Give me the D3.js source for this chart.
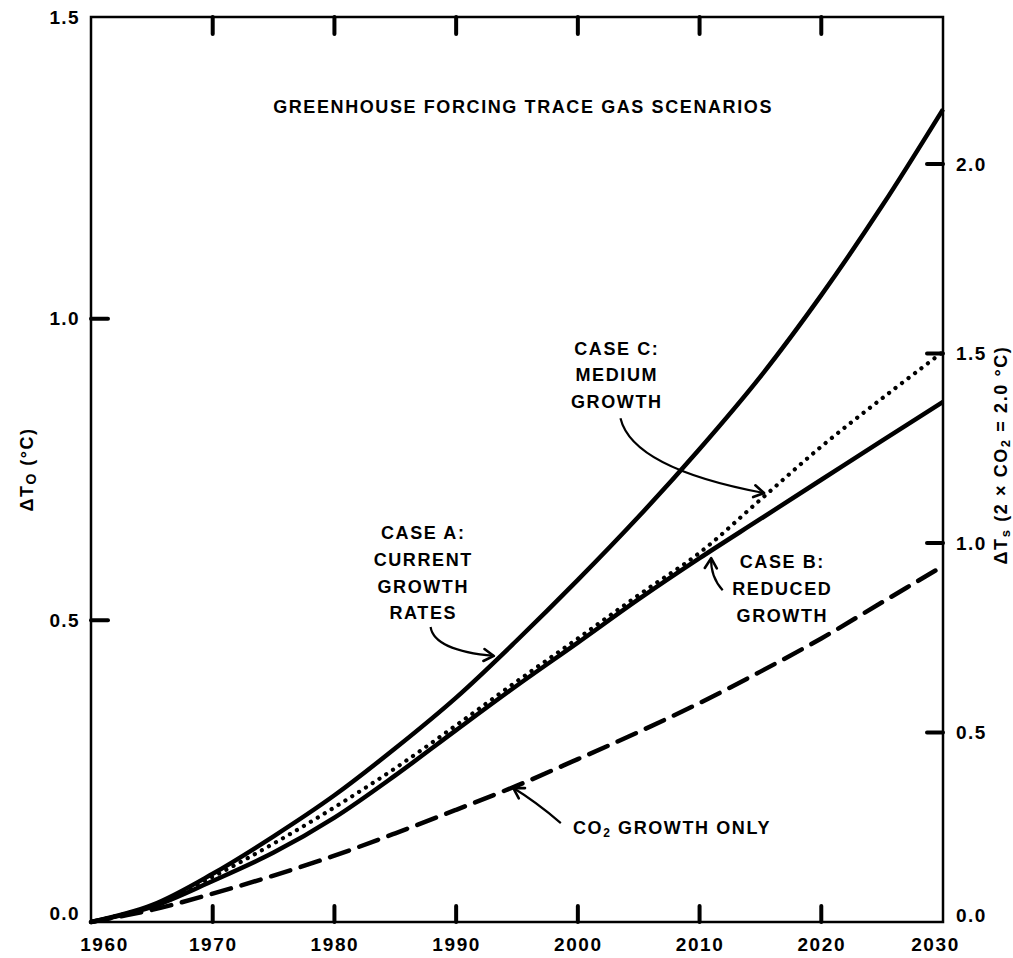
<!DOCTYPE html>
<html>
<head>
<meta charset="utf-8">
<script src="https://cdn.jsdelivr.net/npm/d3@7"></script>
<style>
  html, body { margin: 0; padding: 0; background: #fff; }
  svg { display: block; }
  text { font-family: "Liberation Sans", Arial, Helvetica, sans-serif; fill: #000; }
</style>
</head>
<body>
<svg id="chart" width="1013" height="958"></svg>
<script>
// ---- data ----
const years = [1960, 1965, 1970, 1975, 1980, 1985, 1990, 1995, 2000, 2005, 2010, 2015, 2020, 2025, 2030];
const caseA = [0, 0.028, 0.08, 0.142, 0.21, 0.288, 0.372, 0.467, 0.567, 0.672, 0.784, 0.904, 1.039, 1.187, 1.347];
const caseB = [0, 0.025, 0.068, 0.115, 0.173, 0.243, 0.318, 0.392, 0.463, 0.535, 0.603, 0.668, 0.733, 0.798, 0.862];
const caseC = [0, 0.027, 0.075, 0.13, 0.19, 0.255, 0.326, 0.399, 0.470, 0.542, 0.612, 0.700, 0.788, 0.868, 0.945];
const co2Only = [0, 0.02, 0.047, 0.077, 0.11, 0.147, 0.186, 0.226, 0.27, 0.315, 0.363, 0.415, 0.47, 0.53, 0.59];

const xTicks = [1960, 1970, 1980, 1990, 2000, 2010, 2020, 2030];
const yLeftTicks = [0.0, 0.5, 1.0, 1.5];
const yRightTicks = [0.0, 0.5, 1.0, 1.5, 2.0];

const titleText = "GREENHOUSE FORCING TRACE GAS SCENARIOS";
const leftAxisLabel = ["ΔT", "O", " (°C)"];
const caseALabel = ["CASE A:", "CURRENT", "GROWTH", "RATES"];
const caseCLabel = ["CASE C:", "MEDIUM", "GROWTH"];
const caseBLabel = ["CASE B:", "REDUCED", "GROWTH"];

// annotation anchors in data units [year, value]
const titlePos = [1995.5, 1.351];
const caseAPos = [1987.3, 0.645];
const caseCPos = [2003.2, 0.951];
const caseBPos = [2016.8, 0.597];
const co2LabelPos = [1999.6, 0.157];
const arrows = [
  [[1987.9, 0.489], [1988.2, 0.450], [1993.1, 0.441]],
  [[2003.5, 0.835], [2004.5, 0.752], [2015.3, 0.711]],
  [[2011.9, 0.550], [2010.9, 0.572], [2010.95, 0.603]],
  [[1998.6, 0.164], [1996.5, 0.200], [1994.7, 0.222]]
];

// ---- layout ----
const L = 91, R = 943, T = 17, B = 922;
const svg = d3.select("#chart");

const x = d3.scaleLinear().domain([1960, 2030]).range([L, R]);
const yL = d3.scaleLinear().domain([0, 1.5]).range([B, T]);
const yR = d3.scaleLinear().domain([0, 2.0]).range([B, 164]);

const line = d3.line().x(d => x(d[0])).y(d => yL(d[1])).curve(d3.curveCatmullRom.alpha(0.5));
const zip = arr => years.map((yr, i) => [yr, arr[i]]);

const g = svg.append("g");

// series
g.append("path").datum(zip(co2Only)).attr("d", line)
  .attr("fill", "none").attr("stroke", "#000").attr("stroke-width", 4.5)
  .attr("stroke-dasharray", "20 11").attr("stroke-linecap", "round");
g.append("path").datum(zip(caseB)).attr("d", line)
  .attr("fill", "none").attr("stroke", "#000").attr("stroke-width", 4.5);
g.append("path").datum(zip(caseC)).attr("d", line)
  .attr("fill", "none").attr("stroke", "#000").attr("stroke-width", 4.2)
  .attr("stroke-dasharray", "0.1 8").attr("stroke-linecap", "round");
g.append("path").datum(zip(caseA)).attr("d", line)
  .attr("fill", "none").attr("stroke", "#000").attr("stroke-width", 4.5);

// frame
svg.append("rect").attr("x", L).attr("y", T).attr("width", R - L).attr("height", B - T)
  .attr("fill", "none").attr("stroke", "#000").attr("stroke-width", 2.5);

// axes
const fontTick = "bold 19px 'Liberation Sans', Arial, sans-serif";

const bottom = svg.append("g").attr("transform", `translate(0,${B})`)
  .call(d3.axisBottom(x).tickValues(xTicks).tickFormat(d3.format("d")).tickSize(0).tickPadding(16));
bottom.select(".domain").remove();
bottom.selectAll("text").style("font", fontTick).attr("letter-spacing", "1.6px")
  .attr("dx", d => d === 1960 ? 13 : (d === 2030 ? -8 : 0));

const inner = xTicks.slice(1, -1);
svg.append("g").selectAll("line.bt").data(inner).join("line")
  .attr("x1", d => x(d)).attr("x2", d => x(d)).attr("y1", B).attr("y2", B - 16)
  .attr("stroke", "#000").attr("stroke-width", 4).attr("stroke-linecap", "round");
svg.append("g").selectAll("line.tt").data(inner).join("line")
  .attr("x1", d => x(d)).attr("x2", d => x(d)).attr("y1", T).attr("y2", T + 17)
  .attr("stroke", "#000").attr("stroke-width", 4).attr("stroke-linecap", "round");

const left = svg.append("g").attr("transform", `translate(${L},0)`)
  .call(d3.axisLeft(yL).tickValues(yLeftTicks).tickFormat(d3.format(".1f")).tickSize(0).tickPadding(11));
left.select(".domain").remove();
left.selectAll("text").style("font", fontTick).attr("letter-spacing", "1.4px")
  .attr("dy", d => d === 0 ? "-0.15em" : "0.32em");
svg.append("g").selectAll("line").data(yLeftTicks.slice(1, -1)).join("line")
  .attr("x1", L).attr("x2", L + 17).attr("y1", d => yL(d)).attr("y2", d => yL(d))
  .attr("stroke", "#000").attr("stroke-width", 4).attr("stroke-linecap", "round");

const right = svg.append("g").attr("transform", `translate(${R},0)`)
  .call(d3.axisRight(yR).tickValues(yRightTicks).tickFormat(d3.format(".1f")).tickSize(0).tickPadding(13));
right.select(".domain").remove();
right.selectAll("text").style("font", fontTick).attr("letter-spacing", "1.4px")
  .attr("dy", d => d === 0 ? "-0.05em" : "0.32em");
svg.append("g").selectAll("line").data(yRightTicks.slice(1)).join("line")
  .attr("x1", R).attr("x2", R - 16).attr("y1", d => yR(d)).attr("y2", d => yR(d))
  .attr("stroke", "#000").attr("stroke-width", 4).attr("stroke-linecap", "round");

// axis titles
const lt = svg.append("text")
  .attr("transform", `translate(33,${(yL(1.0) + yL(0.5)) / 2}) rotate(-90)`)
  .attr("text-anchor", "middle")
  .style("font", "bold 18px 'Liberation Sans', Arial, sans-serif").attr("letter-spacing", "1.5px");
lt.append("tspan").text(leftAxisLabel[0]);
lt.append("tspan").attr("baseline-shift", "-3").style("font-size", "14px").text(leftAxisLabel[1]);
lt.append("tspan").text(leftAxisLabel[2]);

const rt = svg.append("text")
  .attr("transform", `translate(1007,455) rotate(-90)`)
  .attr("text-anchor", "middle")
  .style("font", "bold 18px 'Liberation Sans', Arial, sans-serif").attr("letter-spacing", "1.6px");
rt.append("tspan").text("ΔT");
rt.append("tspan").attr("baseline-shift", "-3").style("font-size", "13px").text("s");
rt.append("tspan").text(" (2 × CO");
rt.append("tspan").attr("baseline-shift", "-3").style("font-size", "13px").text("2");
rt.append("tspan").text(" = 2.0 °C)");

// title
svg.append("text").attr("x", x(titlePos[0])).attr("y", yL(titlePos[1])).attr("dy", "0.35em")
  .attr("text-anchor", "middle").attr("letter-spacing", "1.6px")
  .style("font", "bold 18px 'Liberation Sans', Arial, sans-serif").text(titleText);

// case labels
function block(lines, pos) {
  svg.append("g").selectAll("text").data(lines).join("text")
    .attr("x", x(pos[0])).attr("y", (d, i) => yL(pos[1]) + i * 26.7).attr("dy", "0.35em")
    .attr("text-anchor", "middle").attr("letter-spacing", "1.6px")
    .style("font", "bold 18px 'Liberation Sans', Arial, sans-serif").text(d => d);
}
block(caseALabel, caseAPos);
block(caseCLabel, caseCPos);
block(caseBLabel, caseBPos);

const co2t = svg.append("text").attr("x", x(co2LabelPos[0])).attr("y", yL(co2LabelPos[1])).attr("dy", "0.35em")
  .attr("letter-spacing", "1.6px")
  .style("font", "bold 18px 'Liberation Sans', Arial, sans-serif");
co2t.append("tspan").text("CO");
co2t.append("tspan").attr("baseline-shift", "-3").style("font-size", "12px").text("2");
co2t.append("tspan").text(" GROWTH ONLY");

// arrows
svg.append("defs").append("marker").attr("id", "ah")
  .attr("viewBox", "-12 -8 14 16").attr("refX", 0).attr("refY", 0)
  .attr("markerWidth", 14).attr("markerHeight", 16).attr("markerUnits", "userSpaceOnUse")
  .attr("orient", "auto")
  .append("path").attr("d", "M-10,-6 L0,0 L-10,6")
  .attr("fill", "none").attr("stroke", "#000").attr("stroke-width", 2.6)
  .attr("stroke-linejoin", "round").attr("stroke-linecap", "round");

svg.append("g").selectAll("path").data(arrows).join("path")
  .attr("d", a => {
    const p = a.map(d => [x(d[0]), yL(d[1])]);
    return `M${p[0][0]},${p[0][1]} Q${p[1][0]},${p[1][1]} ${p[2][0]},${p[2][1]}`;
  })
  .attr("fill", "none").attr("stroke", "#000").attr("stroke-width", 2.2)
  .attr("marker-end", "url(#ah)");
</script>
</body>
</html>
